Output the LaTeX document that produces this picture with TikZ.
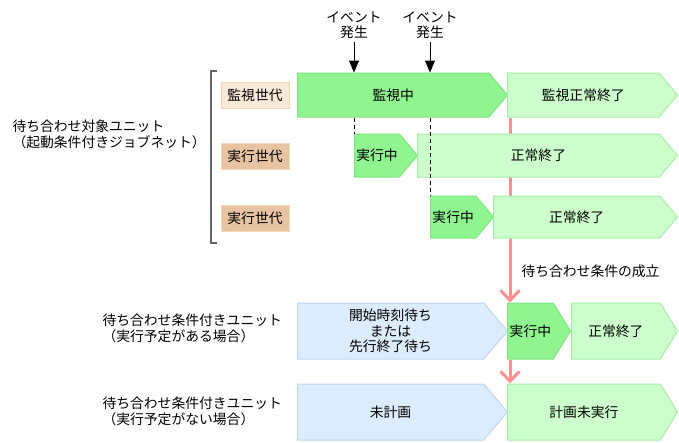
\documentclass[tikz,border=0pt]{standalone}
\usepackage{fontspec}
\setmainfont{Noto Sans CJK JP}
\usepackage{tikz}
\usetikzlibrary{arrows.meta,positioning,shapes.symbols,backgrounds}

\definecolor{runfill}{HTML}{90F490}
\definecolor{rundraw}{HTML}{80E680}
\definecolor{donefill}{HTML}{CCFFCC}
\definecolor{donedraw}{HTML}{A6EEA6}
\definecolor{waitfill}{HTML}{DCECFC}
\definecolor{waitdraw}{HTML}{BAD8F4}
\definecolor{monfill}{HTML}{FAE8D8}
\definecolor{mondraw}{HTML}{F2D4B8}
\definecolor{genfill}{HTML}{E8C4A2}
\definecolor{gendraw}{HTML}{F2D8BE}
\definecolor{condred}{HTML}{FF9090}

\begin{document}
\begin{tikzpicture}[x=1pt,y=-1pt]
\tikzstyle{every node}=[font=\fontsize{13.8}{15.5}\selectfont]
\tikzstyle{stage}=[signal, signal to=east, anchor=west, inner sep=0pt, line width=1pt, align=center]
\tikzstyle{running}=[stage, fill=runfill, draw=rundraw]
\tikzstyle{ended}=[stage, fill=donefill, draw=donedraw]
\tikzstyle{waiting}=[stage, fill=waitfill, draw=waitdraw]
\tikzstyle{gen}=[rectangle, minimum width=68pt, minimum height=26pt, inner sep=0pt, line width=1pt]
\tikzstyle{redarrow}=[line width=3pt, draw=condred, -{Straight Barb[length=10pt,width=19pt,line width=3pt]}]

\useasboundingbox (0,0) rectangle (679,442);

% left side labels
\node[anchor=west, align=left] (target) at (9,134.5) {待ち合わせ対象ユニット\\（起動条件付きジョブネット）};
\node[anchor=west, align=left] (condA) at (99,328.5) {待ち合わせ条件付きユニット\\（実行予定がある場合）};
\node[anchor=west, align=left] (condB) at (99,411.5) {待ち合わせ条件付きユニット\\（実行予定がない場合）};

\draw[line width=1.5pt, black!60] (217,71) -- (211,71) -- (211,243) -- (217,243);

% generations
\node[gen, fill=monfill, draw=mondraw] (genmon) at (255,95) {監視世代};
\node[gen, fill=genfill, draw=gendraw] (genrun1) at (255,156) {実行世代};
\node[gen, fill=genfill, draw=gendraw] (genrun2) at (255,218) {実行世代};

% top rows
\node[running, minimum width=210pt, minimum height=44pt, signal pointer angle=100] (mon) at (297,95) {監視中};
\node[ended, minimum width=170pt, minimum height=44pt, signal pointer angle=100] (monok) at (507,95) {監視正常終了};
\node[running, minimum width=63pt, minimum height=43pt, signal pointer angle=100] (run1) at (354,155.5) {実行中};
\node[ended, minimum width=260pt, minimum height=43pt, signal pointer angle=100] (ok1) at (417,155.5) {正常終了};
\node[running, minimum width=63pt, minimum height=42pt, signal pointer angle=100] (run2) at (430,217) {実行中};
\node[ended, minimum width=184pt, minimum height=42pt, signal pointer angle=100] (ok2) at (493,217) {正常終了};

% bottom rows
\node[waiting, minimum width=210pt, minimum height=56pt, signal pointer angle=99] (waitA) at (297,331) {開始時刻待ち\\または\\先行終了待ち};
\node[running, minimum width=63pt, minimum height=56pt, signal pointer angle=117] (run3) at (507,331) {実行中};
\node[ended, minimum width=106pt, minimum height=56pt, signal pointer angle=117] (ok3) at (571,331) {正常終了};
\node[waiting, minimum width=210pt, minimum height=56pt, signal pointer angle=99] (waitB) at (297,412) {未計画};
\node[ended, minimum width=170pt, minimum height=56pt, signal pointer angle=117] (noexec) at (507,412) {計画未実行};

% events
\node[align=center] (ev1) at (354,25) {イベント\\発生};
\node[align=center] (ev2) at (430,25) {イベント\\発生};
\draw[-{Triangle[length=12pt,width=10pt]}, line width=1pt] (ev1.south) -- (ev1 |- mon.north);
\draw[-{Triangle[length=12pt,width=10pt]}, line width=1pt] (ev2.south) -- (ev2 |- mon.north);
\draw[line width=1pt, dash pattern=on 4pt off 3pt] (ev1 |- mon.south) -- (ev1 |- run1.north);
\draw[line width=1pt, dash pattern=on 4pt off 3pt] (ev2 |- mon.south) -- (ev2 |- run2.north);

% condition met
\node[anchor=west] (cond) at (518,271) {待ち合わせ条件の成立};
\begin{scope}[on background layer]
\draw[redarrow] ([xshift=3pt]monok.south west) -- ([xshift=3pt]run3.north west);
\end{scope}
\draw[redarrow] ([xshift=3pt]run3.south west) -- ([xshift=3pt]noexec.north west);

\end{tikzpicture}
\end{document}
